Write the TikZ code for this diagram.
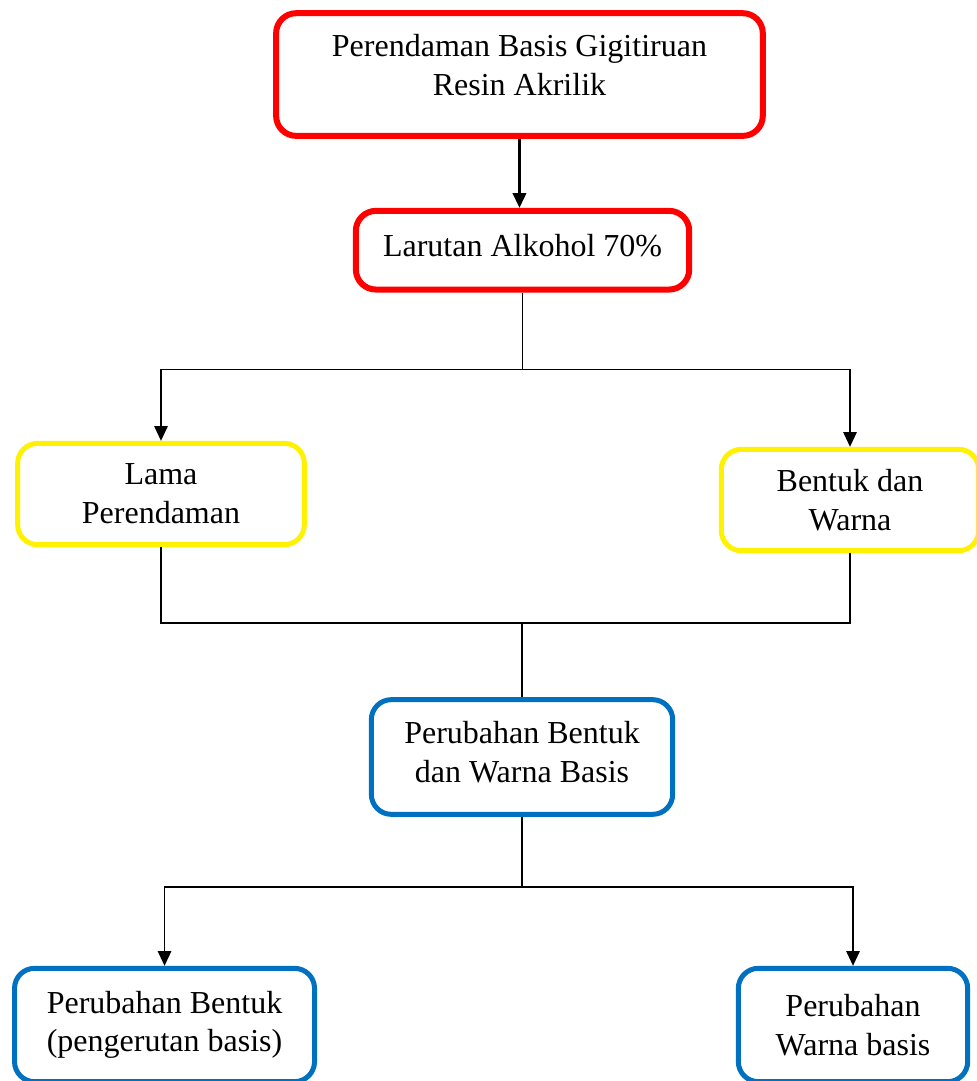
\documentclass[tikz,border=0pt]{standalone}
\usepackage{fontspec}
\setmainfont{Liberation Serif}
\usetikzlibrary{positioning,arrows.meta}
\definecolor{biru}{HTML}{0070C0}

\tikzset{
  kotak/.style={draw, rounded corners=15pt, align=center, fill=white,
    font=\fontsize{24}{29}\selectfont, inner sep=3pt},
  merah/.style={kotak, draw=red, line width=4.5pt},
  kuning/.style={kotak, draw=yellow, line width=3.75pt},
  birukotak/.style={kotak, draw=biru, line width=3.75pt},
  panah/.style={-{Triangle[length=11pt,width=10pt]}, line width=1.2pt},
  garis/.style={line width=1.2pt},
}

\begin{document}
\begin{tikzpicture}
      \useasboundingbox (0pt,0pt) rectangle (732.75pt,-810.75pt);
      \node [merah, minimum width=365pt, minimum height=92pt] (rendam) at (389.6pt,-55.9pt)
        {Perendaman Basis Gigitiruan\\Resin Akrilik\\[-15pt]\mbox{}};
      \node [merah, minimum width=250pt, minimum height=59pt, below=51.75pt of rendam, xshift=2.3pt] (larutan)
        {Larutan Alkohol 70\%\\[-21.5pt]\mbox{}};
      \coordinate [below=57.75pt of larutan] (cabang1);
      \node [kuning, minimum width=215pt, minimum height=76pt] (lama) at (120.75pt,-370.5pt)
        {Lama\\Perendaman};
      \node [kuning, minimum width=193pt, minimum height=76pt] (bentuk) at (637.5pt,-375pt)
        {Bentuk dan\\Warna};
      \coordinate (gabung) at (391.5pt,-467.25pt);
      \node [birukotak, minimum width=226pt, minimum height=86pt] (ubah) at (391.5pt,-567.75pt)
        {Perubahan Bentuk\\dan Warna Basis\\[-21.5pt]\mbox{}};
      \coordinate [below=52.5pt of ubah] (cabang2);
      \node [birukotak, minimum width=225pt, minimum height=85pt] (ubahbentuk) at (123.4pt,-768.75pt)
        {Perubahan Bentuk\\(pengerutan basis)};
      \node [birukotak, minimum width=172pt, minimum height=85pt] (ubahwarna) at (639.75pt,-768.75pt)
        {Perubahan\\Warna basis};

      % panah dan garis
      \draw [panah, line width=1.8pt] (rendam.south) -- (rendam.south |- larutan.north);
      \draw [garis] (larutan) -- (cabang1);
      \draw [panah] (cabang1) -| (lama);
      \draw [panah] (cabang1) -| (bentuk);
      \draw [garis] (lama) |- (gabung) -| (bentuk);
      \draw [garis] (gabung) -- (ubah);
      \draw [garis] (ubah) -- (cabang2);
      \draw [panah] (cabang2) -| (ubahbentuk);
      \draw [panah] (cabang2) -| (ubahwarna);
\end{tikzpicture}
\end{document}
